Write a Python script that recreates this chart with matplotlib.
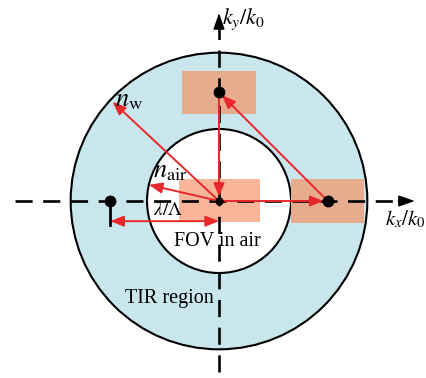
import numpy as np
import matplotlib
matplotlib.use("Agg")
import matplotlib.pyplot as plt
from matplotlib.patches import Circle, Rectangle, FancyArrowPatch

plt.rcParams["mathtext.fontset"] = "stix"
plt.rcParams["font.family"] = ["Liberation Serif", "DejaVu Serif"]

# k-space radii (in units of the drawing's k/k0 scale)
n_air = 1.0
n_w = 2.06
# grating vector length lambda/Lambda
grating = 1.51
# directions of the illustrated wave vectors (degrees)
theta_w = 137.0
theta_air = 167.0
# diffraction orders shown as dots (m_x, m_y)
orders = [(-1, 0), (1, 0), (0, 1)]

blue = "#C9E6EC"
salmon_light = "#F9B599"
salmon_dark = "#E7AB8D"
red = "#E8282B"

fig = plt.figure(figsize=(4.26, 3.78), dpi=100)
ax = fig.add_axes([0, 0, 1, 1])
ax.set_xlim(-219 / 72, (426 - 219) / 72)
ax.set_ylim(-(378 - 201) / 72, 201 / 72)
ax.set_aspect("equal")
ax.axis("off")

# TIR annulus and FOV in air
ax.add_patch(Circle((0, 0), n_w, fc=blue, ec="black", lw=1.5, zorder=1))
ax.add_patch(Circle((0, 0), n_air, fc="white", ec="black", lw=1.5, zorder=2))

# angular bandwidth boxes: central one and the diffracted copies
ax.add_patch(Rectangle((-0.56, -0.29), 1.13, 0.60, fc=salmon_light, ec="none", zorder=3))
for mx, my in orders:
    if (mx, my) == (-1, 0):
        continue
    cx, cy = mx * grating, my * grating
    ax.add_patch(Rectangle((cx - 0.51, cy - 0.30), 1.02, 0.60,
                           fc=salmon_dark, ec="none", zorder=3))

# dashed k axes with solid heads
dash = dict(color="black", lw=1.9, dashes=(6.5, 4.0), zorder=4)
ax.plot([-2.83, 2.51], [0, 0], **dash)
ax.plot([0, 0], [-2.375, 2.40], **dash)
for start, end in [((2.49, 0), (2.72, 0)), ((0, 2.40), (0, 2.61))]:
    ax.add_patch(FancyArrowPatch(start, end, arrowstyle="-|>,head_length=1.0,head_width=0.35",
                                 mutation_scale=10, color="black", lw=1.0,
                                 shrinkA=0, shrinkB=0, zorder=5))


def red_arrow(p0, p1, style="-|>", shrinkB=0.0):
    ax.add_patch(FancyArrowPatch(p0, p1,
                                 arrowstyle=f"{style},head_length=0.8,head_width=0.32",
                                 mutation_scale=10, color=red, lw=1.4,
                                 shrinkA=0, shrinkB=shrinkB, zorder=6))


origin = (0.0, 0.0)
top = (0.0, grating)
right = (grating, 0.0)
left = (-grating, 0.0)

red_arrow(origin, (n_w * np.cos(np.radians(theta_w)), n_w * np.sin(np.radians(theta_w))), shrinkB=2)
red_arrow(origin, (n_air * np.cos(np.radians(theta_air)), n_air * np.sin(np.radians(theta_air))))
red_arrow(top, origin, shrinkB=3)
red_arrow(right, top, shrinkB=3)
red_arrow(origin, right, shrinkB=3)
red_arrow((left[0], -0.28), (0.0, -0.28), style="<|-|>")

# tick under the -1 order
ax.plot([left[0], left[0]], [0, -0.33], color="black", lw=2.0, zorder=7)

# order dots
for mx, my in orders:
    ax.plot(mx * grating, my * grating, "o", color="black", ms=7.5, zorder=8)
ax.plot(0, 0, "o", color="black", ms=5, zorder=8)

# labels
ax.text(0.04, 2.46, r"$k_y/k_0$", fontsize=16, ha="left", va="baseline", zorder=9)
ax.text(2.30, -0.333, r"$k_x/k_0$", fontsize=15, ha="left", va="baseline", zorder=9)
ax.text(-1.44, 1.31, r"$n_{\rm w}$", fontsize=19, ha="left", va="baseline", zorder=9)
ax.text(-0.92, 0.33, r"$n_{\rm air}$", fontsize=19, ha="left", va="baseline", zorder=9)
ax.text(-0.92, -0.19, r"$\lambda/\Lambda$", fontsize=14, ha="left", va="baseline", zorder=9)
ax.text(-0.625, -0.625, "FOV in air", fontsize=14.5, ha="left", va="baseline", zorder=9)
ax.text(-1.31, -1.42, "TIR region", fontsize=14.5, ha="left", va="baseline", zorder=9)

fig.savefig("out.png", dpi=100)
